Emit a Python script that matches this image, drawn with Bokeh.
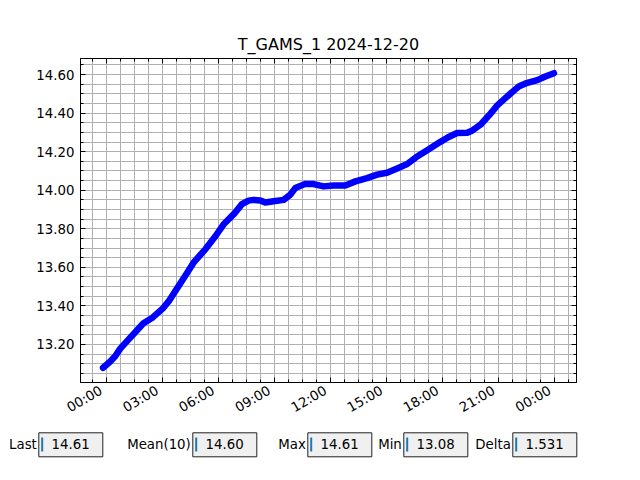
import math
import pandas as pd
from bokeh.plotting import figure
from bokeh.layouts import column
from bokeh.models import (FixedTicker, DatetimeTickFormatter, PrintfTickFormatter,
                          Range1d, DatetimeAxis, LinearAxis, ColumnDataSource,
                          CustomJSTickFormatter)
from bokeh.core.properties import value
from bokeh.embed import file_html
from bokeh.resources import INLINE

# ---------------- data ----------------
title_text = "T_GAMS_1 2024-12-20"
day_start = "2024-12-20 00:00"
# hours after day_start
hours = [-0.16, 0.21, 0.5, 0.75, 1.1, 1.55, 2.0, 2.5, 3.07, 3.4, 3.7, 4.23, 4.68, 5.0,
         5.3, 5.84, 6.28, 6.91, 7.27, 7.62, 7.89, 8.25, 8.52, 8.96, 9.5, 9.86, 10.12,
         10.66, 11.1, 11.64, 12.17, 12.8, 13.34, 13.96, 14.5, 15.03, 15.57, 16.11,
         16.6, 17.18, 17.89, 18.3, 18.78, 19.32, 19.6, 20.03, 20.5, 20.93, 21.64,
         22.1, 22.44, 23.07, 23.5, 23.96]
temps = [13.079, 13.11, 13.14, 13.177, 13.215, 13.262, 13.31, 13.34, 13.39, 13.43,
         13.476, 13.555, 13.624, 13.66, 13.692, 13.76, 13.822, 13.884, 13.928, 13.946,
         13.95, 13.947, 13.936, 13.943, 13.95, 13.977, 14.011, 14.033, 14.032, 14.02,
         14.024, 14.025, 14.046, 14.063, 14.081, 14.091, 14.113, 14.136, 14.172, 14.207,
         14.251, 14.275, 14.297, 14.298, 14.31, 14.34, 14.39, 14.44, 14.502, 14.54,
         14.554, 14.571, 14.59, 14.607]
x_tick_hours = [0, 3, 6, 9, 12, 15, 18, 21, 24]
x_minor_step_hours = 0.75
y_ticks = [13.2, 13.4, 13.6, 13.8, 14.0, 14.2, 14.4, 14.6]
y_minor_step = 0.05
stat_labels = ["Last", "Mean(10)", "Max", "Min", "Delta"]
stat_values = ["14.61", "14.60", "14.61", "13.08", "1.531"]

# ---------------- styles / layout ----------------
FONT = "DejaVu Sans"
GRID = "#b0b0b0"
W = 632

base = pd.Timestamp(day_start)
MS_H = 3600 * 1000.0
base_ms = base.value / 1e6
x_ms = [base_ms + h * MS_H for h in hours]

src = ColumnDataSource(dict(x=x_ms, y=temps))

xmin, xmax = min(x_ms), max(x_ms)
xpad = 0.05 * (xmax - xmin)
ymin, ymax = min(temps), max(temps)
ypad = 0.05 * (ymax - ymin)

p = figure(width=W, height=424, x_axis_type="datetime",
           x_range=Range1d(xmin - xpad, xmax + xpad),
           y_range=Range1d(ymin - ypad, ymax + ypad),
           title=title_text, toolbar_location=None, output_backend="svg",
           min_border_left=80, min_border_right=56, min_border_top=58,
           min_border_bottom=40)
p.frame_align = False

p.title.text_font = FONT
p.title.text_font_size = "16px"
p.title.text_font_style = "normal"
p.title.text_color = "black"
p.title.align = "center"
p.title.standoff = 9

xt = [base_ms + h * MS_H for h in x_tick_hours]
xminor = [base_ms + k * x_minor_step_hours * MS_H for k in range(-3, 36)]
xticker = FixedTicker(ticks=xt, minor_ticks=xminor)
ymin_t = [round(13.0 + k * y_minor_step, 2) for k in range(0, 35)]
yticker = FixedTicker(ticks=y_ticks, minor_ticks=ymin_t)

hm = "%H:%M\u00a0\u200a"
fmt = DatetimeTickFormatter(hours=hm, hourmin=hm, days=hm, minutes=hm, minsec=hm)

bottom_ax = p.below[0]
left_ax = p.left[0]
bottom_ax.ticker = xticker
bottom_ax.formatter = fmt
left_ax.ticker = yticker
left_ax.formatter = PrintfTickFormatter(format="%.2f")
bottom_ax.major_label_orientation = math.pi / 6

blank = CustomJSTickFormatter(code="return '';")
top_ax = DatetimeAxis(ticker=xticker, formatter=blank)
right_ax = LinearAxis(ticker=yticker, formatter=blank)
p.add_layout(top_ax, "above")
p.add_layout(right_ax, "right")
for ax in (top_ax, right_ax):
    ax.major_label_standoff = 0

for ax in (bottom_ax, left_ax, top_ax, right_ax):
    ax.major_tick_in = 5
    ax.major_tick_out = 0
    ax.minor_tick_in = 3
    ax.minor_tick_out = 0
    ax.axis_line_color = "black"
    ax.major_tick_line_color = "black"
    ax.minor_tick_line_color = "black"
    ax.major_label_text_font = FONT
    ax.major_label_text_color = "black"
    ax.major_label_text_font_size = "13.33px"
left_ax.major_label_standoff = 6
bottom_ax.major_label_standoff = 4

p.outline_line_color = "black"
p.outline_line_alpha = 1
p.xgrid.ticker = xticker
p.ygrid.ticker = yticker
for g in (p.xgrid, p.ygrid):
    g.grid_line_color = GRID
    g.minor_grid_line_color = GRID
    g.grid_line_width = 1
    g.minor_grid_line_width = 1

p.line("x", "y", source=src, line_color="#0000ff", line_width=6.5,
       line_join="round", line_cap="round")

# ---------------- stat boxes ----------------
box_left = [38.3, 192.3, 307.3, 403.3, 512.3]
BOX_W = 64
p2 = figure(width=W, height=48, x_range=Range1d(0, W), y_range=Range1d(48, 0),
            toolbar_location=None, output_backend="svg", min_border=0,
            x_axis_location=None, y_axis_location=None)
p2.frame_align = False
p2.grid.visible = False
p2.outline_line_color = None
bsrc = ColumnDataSource(dict(
    left=box_left, right=[b + BOX_W for b in box_left],
    cur=[b + 3.4 for b in box_left],
    tx=[b + 12.7 for b in box_left], lx=[b - 2 for b in box_left],
    lab=stat_labels, val=stat_values))
p2.quad(left="left", right="right", top=8.3, bottom=32.3, source=bsrc,
        fill_color="#f0f0f0", line_color="#222222", line_width=1)
p2.segment(x0="cur", x1="cur", y0=13, y1=27, source=bsrc,
           line_color="#1f77b4", line_width=2)
p2.text(x="tx", y=19.5, text="val", source=bsrc, text_font=value(FONT),
        text_font_size="13.33px", text_baseline="middle", text_color="black")
p2.text(x="lx", y=19.5, text="lab", source=bsrc, text_font=value(FONT),
        text_font_size="13.33px", text_baseline="middle", text_align="right",
        text_color="black")

layout = column(p, p2, spacing=0)
open("out.html", "w").write(file_html(layout, INLINE))
